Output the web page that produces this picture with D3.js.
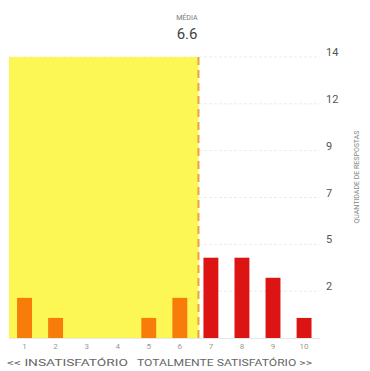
<!DOCTYPE html>
<html><head><meta charset="utf-8">
<script src="https://cdn.jsdelivr.net/npm/d3@7"></script>
<style>html,body{margin:0;padding:0;background:#fff;}svg{display:block;font-family:Roboto, "Liberation Sans", sans-serif;}</style>
</head><body>
<svg id="c" width="370" height="371"></svg>
<script>
const categories = [1,2,3,4,5,6,7,8,9,10];
const counts = [2,1,0,0,1,2,4,4,3,1];
const meanValue = 6.6;
const yTicks = [14/6, 28/6, 7, 56/6, 70/6, 14];
const yTickLabels = ["2","5","7","9","12","14"];
const meanLabel = "MÉDIA";
const leftLabel = "<< INSATISFATÓRIO";
const rightLabel = "TOTALMENTE SATISFATÓRIO >>";
const yTitle = "QUANTIDADE DE RESPOSTAS";

const svg = d3.select("#c");
const x = d3.scaleBand().domain(categories).range([9, 319.6]).paddingInner(0.52).paddingOuter(0.26);
const xl = d3.scaleLinear().domain([1, 10]).range([x(1) + x.bandwidth()/2, x(10) + x.bandwidth()/2]);
const y = d3.scaleLinear().domain([0, 14]).range([338, 57]);

// grid
svg.append("g").selectAll("line").data(yTicks).join("line")
  .attr("x1", 9).attr("x2", 320)
  .attr("y1", d => y(d)).attr("y2", d => y(d))
  .attr("stroke", "#ececec").attr("stroke-width", 1).attr("stroke-dasharray", "3,2");

// yellow region
svg.append("rect")
  .attr("x", xl(0.5)).attr("y", y(14))
  .attr("width", xl(meanValue) - xl(0.5)).attr("height", y(0) - y(14))
  .attr("fill", "#fdf755");

// baseline
svg.append("line").attr("x1", 9).attr("x2", 320).attr("y1", y(0)+0.5).attr("y2", y(0)+0.5)
  .attr("stroke", "#e8e8e8");

// bars
svg.append("g").selectAll("rect").data(categories).join("rect")
  .attr("x", d => x(d)).attr("width", x.bandwidth())
  .attr("y", (d,i) => y(counts[i])).attr("height", (d,i) => y(0) - y(counts[i]))
  .attr("fill", d => d < meanValue ? "#f77c0a" : "#dc1414");

// mean line
svg.append("line").attr("x1", xl(meanValue)).attr("x2", xl(meanValue))
  .attr("y1", y(14)).attr("y2", y(0))
  .attr("stroke", "#eea03c").attr("stroke-width", 2).attr("stroke-dasharray", "8,5");

svg.append("text").attr("x", xl(meanValue) - 1).attr("y", 20).attr("text-anchor", "end")
  .attr("font-size", 7).attr("fill", "#777").text(meanLabel);
svg.append("text").attr("x", xl(meanValue) - 1).attr("y", 39).attr("text-anchor", "end")
  .attr("font-size", 15).attr("fill", "#444").text(meanValue.toFixed(1));

// y axis labels
const yAxis = d3.axisRight(y).tickValues(yTicks).tickFormat((d,i) => yTickLabels[i]).tickSize(0).tickPadding(0);
const ga = svg.append("g").attr("transform", "translate(326,-5)").call(yAxis);
ga.select(".domain").remove();
ga.selectAll("text").attr("font-size", 11).attr("fill", "#555").attr("font-family", "Roboto, sans-serif");

svg.append("text").attr("transform", "translate(359,177) rotate(-90)").attr("text-anchor", "middle")
  .attr("font-size", 7).attr("fill", "#888").text(yTitle);

// x axis
const xAxis = d3.axisBottom(x).tickSize(0).tickPadding(0);
const gx = svg.append("g").attr("transform", "translate(0,343)").call(xAxis);
gx.select(".domain").remove();
gx.selectAll("text").attr("font-size", 8).attr("fill", "#999").attr("font-family", "Roboto, sans-serif");

svg.append("text").attr("x", 7).attr("y", 366).attr("font-size", 9.5).attr("fill", "#666")
  .attr("textLength", 121).attr("lengthAdjust", "spacingAndGlyphs").text(leftLabel);
svg.append("text").attr("x", 137).attr("y", 366).attr("font-size", 9.5).attr("fill", "#666")
  .attr("textLength", 175).attr("lengthAdjust", "spacingAndGlyphs").text(rightLabel);
</script>
</body></html>
